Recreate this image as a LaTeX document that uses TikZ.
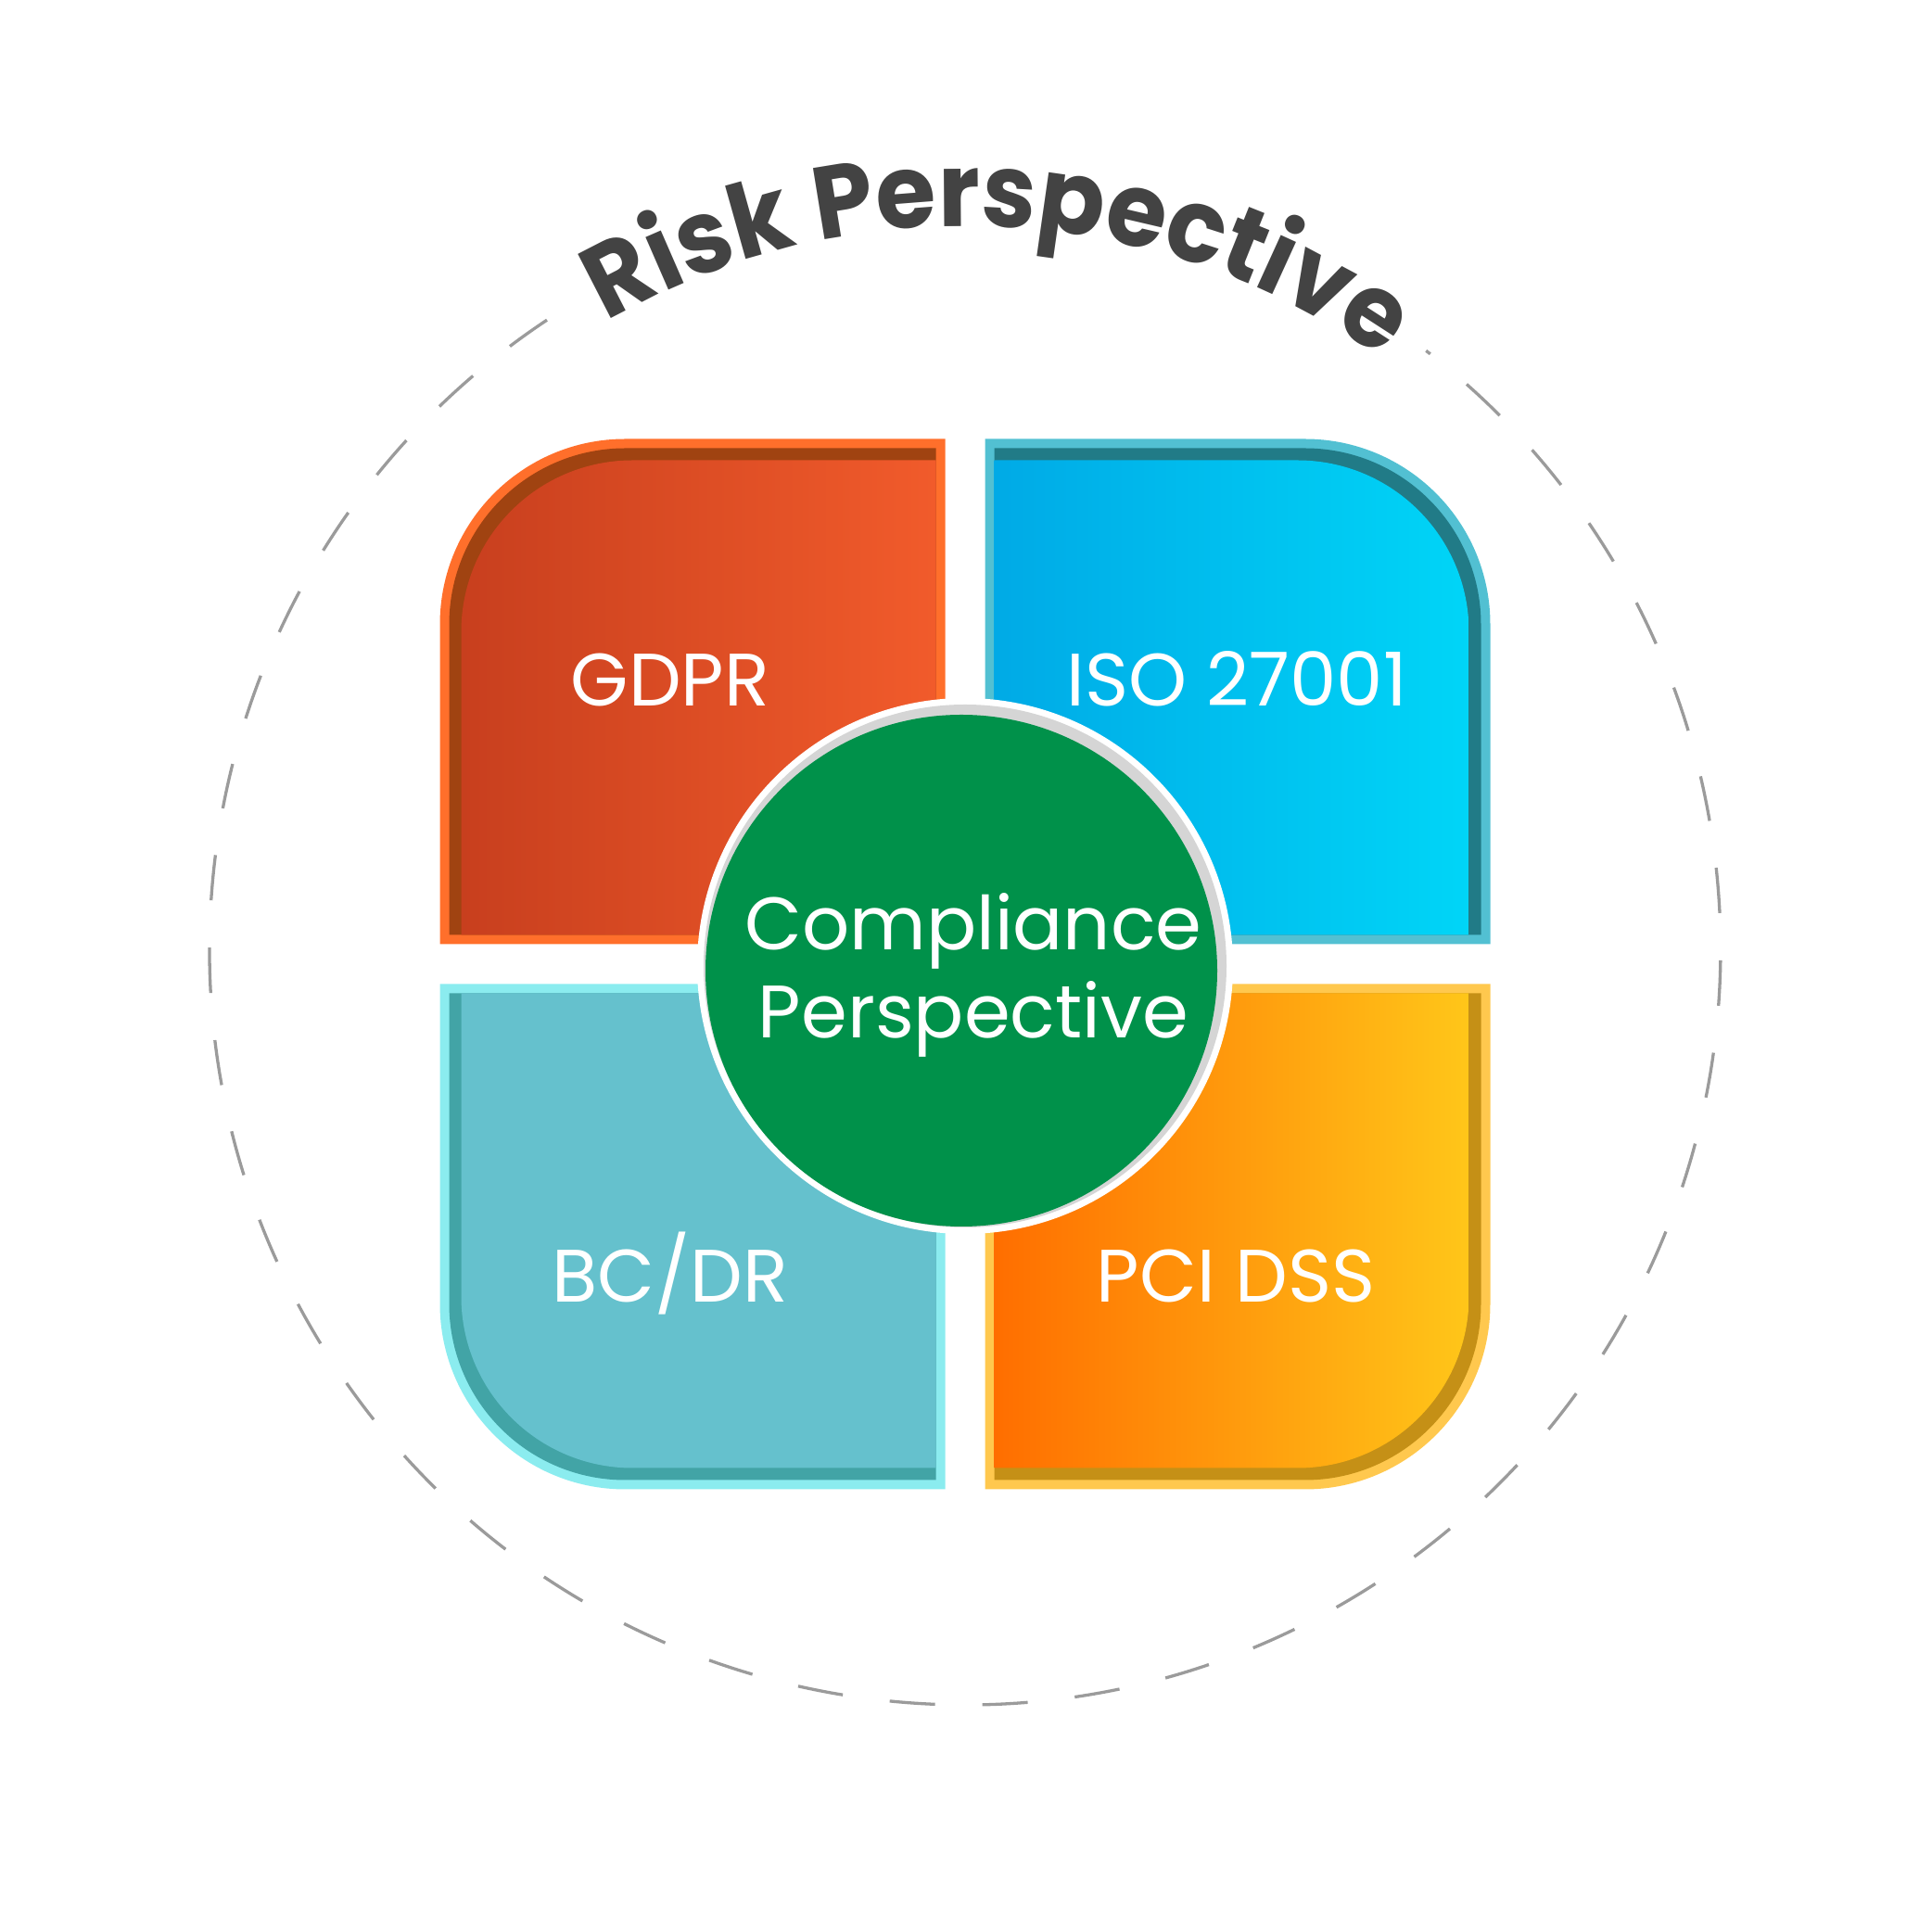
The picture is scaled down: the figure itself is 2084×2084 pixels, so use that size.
\documentclass[tikz,border=0pt]{standalone}
\usepackage{fontspec}
\setmainfont{Poppins}
\newfontfamily\riskfont{Poppins}[FakeStretch=0.95]
\usepackage{xcolor}
\usepackage{tikz}
\usetikzlibrary{decorations.text}

\definecolor{gdprEdge}{HTML}{FF6F2B}
\definecolor{gdprBand}{HTML}{A04311}
\definecolor{gdprL}{HTML}{C83F1E}
\definecolor{gdprR}{HTML}{F15B2B}
\definecolor{isoEdge}{HTML}{52C0D2}
\definecolor{isoBand}{HTML}{217B87}
\definecolor{isoL}{HTML}{00AAE6}
\definecolor{isoR}{HTML}{00D5F7}
\definecolor{bcdrEdge}{HTML}{8BECEF}
\definecolor{bcdrBand}{HTML}{42A4A6}
\definecolor{bcdrFill}{HTML}{65C1CD}
\definecolor{pciEdge}{HTML}{FFC84E}
\definecolor{pciBand}{HTML}{C59016}
\definecolor{pciL}{HTML}{FF6E00}
\definecolor{pciR}{HTML}{FFC619}
\definecolor{coreGreen}{HTML}{00914A}
\definecolor{ringGray}{HTML}{D5D5D5}
\definecolor{rimGray}{HTML}{9B9B9B}
\definecolor{riskGray}{HTML}{434343}

% one quarter of the square, rounded only at its outer corner
% #1 inset of the inner sides, #2 inset of the outer sides, #3 corner radius
\newcommand\quadpath[3]{%
  ({1041+(\sx)*(21.5+#1)},{1044+(\sy)*(21.5+#1)})
  -- ({1041+(\sx)*(21.5+#1)},{1044+(\sy)*(566.5-#2)})
  -- ({1041+(\sx)*(566.5-#2-#3)},{1044+(\sy)*(566.5-#2)})
  arc[start angle=\sa, end angle=\ea, radius=#3]
  -- ({1041+(\sx)*(566.5-#2)},{1044+(\sy)*(21.5+#1)}) -- cycle}

\begin{document}
\begin{tikzpicture}[x=0.01cm, y=0.01cm,
  boxtext/.style={font=\fontsize{22.8}{27}\selectfont, text=white, anchor=base, inner sep=0pt},
  coretext/.style={font=\fontsize{22.8}{27}\selectfont, text=white, align=center, inner sep=0pt},
  rim/.style={rimGray, line width=0.033cm, dash pattern=on 0.49cm off 0.51cm}]
\useasboundingbox (0,0) rectangle (2084,2084);

% outer dashed ring, open where the title sits
\draw [rim] (1041,1060) ++(123.6:815) arc [start angle=123.6, end angle=412.4, radius=815];
\path [decorate, decoration={text along path, text align=center,
  text={|\riskfont\fontsize{31.5}{38}\selectfont\bfseries\color{riskGray}|Risk Perspective}}]
  (1041,1060) ++(121:780) arc [start angle=121, end angle=53.5, radius=780];

% the four quarters
\foreach \sx/\sy/\edge/\band/\lc/\rc in {-1/1/gdprEdge/gdprBand/gdprL/gdprR,
    1/1/isoEdge/isoBand/isoL/isoR, -1/-1/bcdrEdge/bcdrBand/bcdrFill/bcdrFill,
    1/-1/pciEdge/pciBand/pciL/pciR} {
  \pgfmathsetmacro\sa{90*\sy}
  \pgfmathsetmacro\ea{\sy*(90-90*\sx)}
  \fill [\edge] \quadpath{0}{0}{200};
  \fill [\band] \quadpath{10}{10}{190};
  \shade [left color=\lc, right color=\rc] \quadpath{10}{23}{185};
}

\node [boxtext] (gdpr) at (723,1322) {GDPR};
\node [boxtext] (iso) at (1334,1322) {ISO 27001};
\node [boxtext] (bcdr) at (723,679) {BC/DR};
\node [boxtext] (pci) at (1333,679) {PCI DSS};

% centre disc
\fill [white] (1041,1042) circle [radius=289];
\fill [ringGray] (1041,1042) circle [radius=282];
\fill [coreGreen] (1037,1037) circle [radius=276];
\node [coretext] (core) at (1050,1032) {Compliance\\Perspective};
\end{tikzpicture}
\end{document}
